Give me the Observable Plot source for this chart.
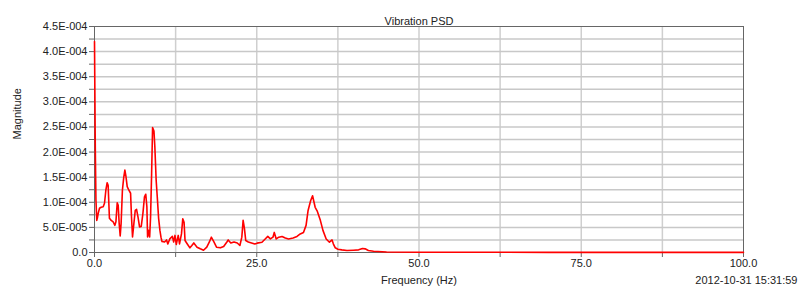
<!DOCTYPE html>
<html>
<head>
<meta charset="utf-8">
<script src="https://cdn.jsdelivr.net/npm/d3@7"></script>
<script src="https://cdn.jsdelivr.net/npm/@observablehq/plot@0.6"></script>
<style>
  html, body { margin: 0; padding: 0; background: #fff; }
  #chart { width: 798px; height: 290px; overflow: hidden; }
  svg { font-family: "Liberation Sans", Arial, sans-serif; }
</style>
</head>
<body>
<div id="chart"></div>
<script>
// Frequency (Hz)
const frequency = [
  0, 0.12, 0.22, 0.35, 0.45, 0.57, 0.77, 1.03, 1.34, 1.54, 1.75, 1.95, 2.1, 2.3, 2.57, 2.88,
  3.14, 3.3, 3.5, 3.65, 3.8, 3.96, 4.1, 4.3, 4.5, 4.68, 4.84, 5.04, 5.3, 5.56, 5.7, 5.86,
  6.07, 6.28, 6.48, 6.7, 6.94, 7.2, 7.46, 7.7, 7.9, 8.07, 8.18, 8.33, 8.5, 8.64, 8.8, 8.95,
  9.16, 9.3, 9.5, 9.67, 9.88, 10.08, 10.25, 10.4, 10.8, 11.1, 11.3, 11.6, 12.0, 12.2, 12.4,
  12.6, 12.9, 13.1, 13.4, 13.6, 13.8, 13.95, 14.3, 14.7, 15.0, 15.3, 15.8, 16.3, 16.8, 17.3,
  17.7, 18.0, 18.4, 18.8, 19.4, 19.9, 20.4, 20.6, 21.0, 21.5, 22.0, 22.4, 22.7, 22.9, 23.1,
  23.3, 23.7, 24.2, 24.7, 25.06, 25.8, 26.3, 26.7, 27.1, 27.5, 27.7, 28.0, 28.4, 28.9, 29.4,
  29.9, 30.6, 31.2, 31.7, 32.2, 32.6, 32.9, 33.3, 33.6, 34.0, 34.3, 34.8, 35.2, 35.7, 36.2,
  36.6, 36.8, 37.1, 37.5, 38.1, 38.9, 39.9, 40.7, 41.3, 41.7, 42.2, 43.0, 45, 50, 60, 70,
  80, 90, 100
];
// Magnitude, in units of 1E-005
const magnitudeE5 = [
  42, 21, 10.5, 6.4, 6.9, 7.8, 8.8, 9.0, 9.1, 9.8, 12.4, 13.9, 13.4, 6.8, 6.4, 6.1,
  5.4, 6.1, 9.9, 9.4, 5.8, 3.3, 5.8, 12.4, 14.9, 16.4, 15.2, 13.1, 12.4, 11.8, 7.1, 3.1,
  5.8, 8.4, 8.6, 7.1, 5.1, 5.2, 7.8, 11.1, 11.6, 9.1, 3.1, 4.4, 3.1, 7.1, 15.7, 24.9,
  24.2, 21.0, 14.4, 11.1, 6.8, 4.4, 3.0, 2.2, 2.1, 2.5, 1.7, 2.7, 3.2, 2.1, 3.4,
  1.6, 3.4, 1.7, 3.7, 6.7, 6.0, 2.4, 1.7, 0.93, 1.4, 1.9, 1.06, 0.73, 0.45, 1.06,
  2.1, 3.05, 2.1, 1.06, 0.93, 1.2, 2.1, 2.5, 1.9, 2.1, 1.9, 1.4, 3.05, 6.4, 4.8,
  2.4, 2.1, 1.9, 1.7, 1.86, 2.05, 2.7, 3.2, 2.7, 3.05, 4.0, 2.7, 3.05, 3.2, 2.9,
  2.7, 2.9, 3.2, 3.7, 4.0, 5.4, 8.3, 10.3, 11.3, 9.0, 8.3, 6.4, 4.4, 2.7, 2.05,
  2.5, 1.73, 0.93, 0.66, 0.53, 0.4, 0.46, 0.53, 0.8, 0.73, 0.4, 0.26, 0.1, 0.05, 0.04, 0.03,
  0.03, 0.03, 0.03
];

const xTicks = [0, 12.5, 25, 37.5, 50, 62.5, 75, 87.5, 100];
const xTickLabels = ["0.0", "", "25.0", "", "50.0", "", "75.0", "", "100.0"];
const yTicks = [0, 2.5e-5, 5e-5, 7.5e-5, 1e-4, 1.25e-4, 1.5e-4, 1.75e-4, 2e-4, 2.25e-4, 2.5e-4,
  2.75e-4, 3e-4, 3.25e-4, 3.5e-4, 3.75e-4, 4e-4, 4.25e-4, 4.5e-4];
const yTickLabels = ["0.0", "", "5.0E-005", "", "1.0E-004", "", "1.5E-004", "", "2.0E-004", "",
  "2.5E-004", "", "3.0E-004", "", "3.5E-004", "", "4.0E-004", "", "4.5E-004"];

const chartTitle = "Vibration PSD";
const xLabel = "Frequency (Hz)";
const yLabel = "Magnitude";
const timestamp = "2012-10-31 15:31:59";

const data = frequency.map((f, i) => ({f, m: magnitudeE5[i] * 1e-5}));

const plot = Plot.plot({
  width: 798,
  height: 290,
  marginLeft: 94,
  marginRight: 55,
  marginTop: 26,
  marginBottom: 38,
  style: {fontFamily: "'Liberation Sans', Arial, sans-serif", fontSize: "11px", color: "#222", background: "#fff"},
  x: {domain: [0, 100]},
  y: {domain: [0, 4.5e-4]},
  marks: [
    Plot.gridX(xTicks.slice(1, -1), {stroke: "#cfcfcf", strokeOpacity: 1, strokeWidth: 1.5}),
    Plot.gridY(yTicks.slice(1, -1), {stroke: "#c8c8c8", strokeOpacity: 1, strokeWidth: 1.5}),
    Plot.frame({stroke: "#666"}),
    Plot.axisX(xTicks, {
      tickSize: 5, tickPadding: 2, stroke: "#666",
      tickFormat: (d, i) => xTickLabels[xTicks.indexOf(d)],
      label: null, fontSize: 11, fill: "#222"
    }),
    Plot.axisY(yTicks, {
      tickSize: 5, tickPadding: 2, stroke: "#666",
      tickFormat: (d) => yTickLabels[yTicks.indexOf(d)],
      label: null, fontSize: 11, fill: "#222"
    }),
    Plot.line(data, {x: "f", y: "m", stroke: "#ff0000", strokeWidth: 1.6}),
    Plot.text([chartTitle], {frameAnchor: "top", dy: -9, fontSize: 11, fill: "#222"}),
    Plot.text([xLabel], {frameAnchor: "bottom", dy: 31, fontSize: 11, fill: "#222"}),
    Plot.text([timestamp], {frameAnchor: "bottom-right", dx: 54, dy: 31, textAnchor: "end", fontSize: 11, fill: "#222"}),
    Plot.text([yLabel], {frameAnchor: "left", dx: -77, rotate: -90, fontSize: 11, fill: "#222"})
  ]
});

document.getElementById("chart").appendChild(plot);
</script>
</body>
</html>
